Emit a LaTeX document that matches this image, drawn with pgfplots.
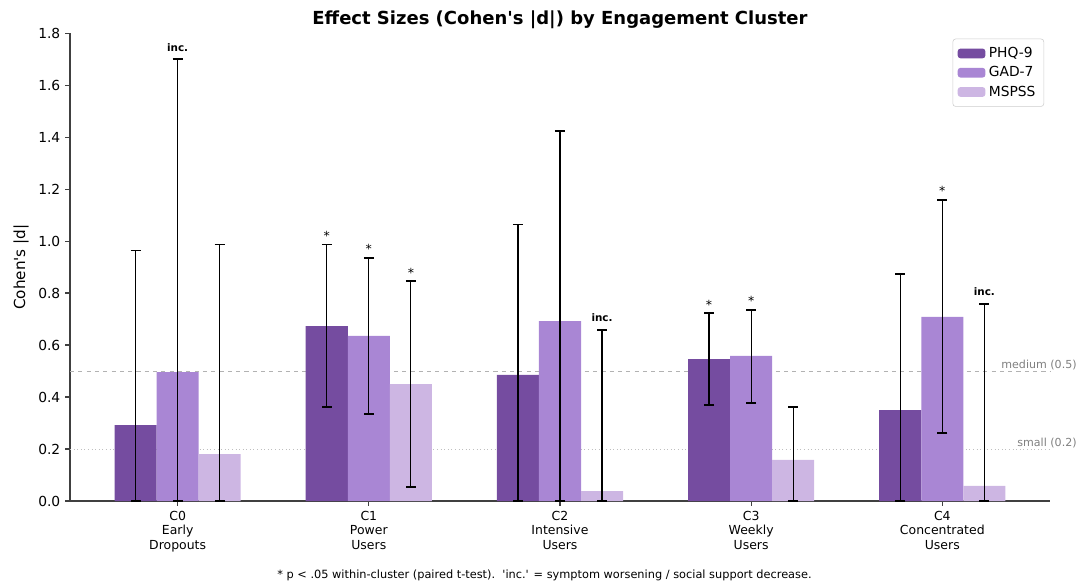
\documentclass[border=0pt]{standalone}
\usepackage{pgfplots}
\pgfplotsset{compat=1.18}
\usepackage{pgfplotstable}
\usepackage{fontspec}
\setmainfont{DejaVu Sans}

\definecolor{phq}{HTML}{754CA0}
\definecolor{gad}{HTML}{A986D4}
\definecolor{msp}{HTML}{CDB6E3}

% g = cluster, y = |d|, lo/hi = CI bounds
\pgfplotstableread{
g y lo hi
0 0.292 0.000 0.965
1 0.673 0.362 0.988
2 0.485 0.000 1.065
3 0.546 0.369 0.723
4 0.350 0.000 0.873
}\tabphq
\pgfplotstableread{
g y lo hi
0 0.496 0.000 1.700
1 0.635 0.335 0.935
2 0.692 0.000 1.423
3 0.558 0.377 0.735
4 0.708 0.262 1.158
}\tabgad
\pgfplotstableread{
g y lo hi
0 0.180 0.000 0.988
1 0.450 0.054 0.846
2 0.038 0.000 0.658
3 0.158 0.000 0.362
4 0.058 0.000 0.758
}\tabmsp
% annotation positions (top of CI)
\pgfplotstableread{
x y
0.78 0.988
1.00 0.935
1.22 0.846
2.78 0.723
3.00 0.735
4.00 1.158
}\tabstar
\pgfplotstableread{
x y
0.00 1.700
2.22 0.658
4.22 0.758
}\tabinc

\pgfplotsset{
  cibar/.style={ybar, bar width=0.22, bar shift=0, draw=none,
    error bars/y dir=both, error bars/y explicit,
    error bars/error bar style={draw=black, line width=0.9pt},
    error bars/error mark options={draw=black, rotate=90, mark size=3.6pt, line width=0.9pt}},
}
\newcommand{\q}{\textquotesingle}

\begin{document}
\begin{tikzpicture}
\begin{axis}[
    scale only axis,
    width=708.2pt, height=338.2pt,
    xmin=-0.563, xmax=4.563,
    ymin=0, ymax=1.8,
    clip=false,
    axis x line*=bottom,
    axis y line*=left,
    axis line style={black!75, line width=0.8pt},
    tick align=outside,
    major tick length=3.5pt,
    tick style={black!75, line width=0.8pt},
    xtick={0,1,2,3,4},
    xticklabels={C0\\Early\\Dropouts, C1\\Power\\Users, C2\\Intensive\\Users, C3\\Weekly\\Users, C4\\Concentrated\\Users},
    xticklabel style={align=center, font=\fontsize{9}{10.8}\selectfont},
    ytick={0,0.2,...,1.8},
    yticklabel style={font=\fontsize{10}{12}\selectfont},
    /pgf/number format/assume math mode=true,
    yticklabel={\pgfmathprintnumber[fixed,fixed zerofill,precision=1]{\tick}},
    ylabel={Cohen\q s |d|},
    ylabel style={font=\fontsize{11}{13}\selectfont},
    title={Effect Sizes (Cohen\q s |d|) by Engagement Cluster},
    title style={font=\bfseries\fontsize{13}{15}\selectfont, yshift=-6.5pt},
    legend style={at={(0.994,0.988)}, anchor=north east, draw=black!20, rounded corners=2pt,
        font=\fontsize{10}{12}\selectfont, inner sep=3.5pt,
        nodes={inner sep=2.5pt}},
    legend cell align=left,
    legend image code/.code={\fill[#1] (0pt,-3.5pt) rectangle (20pt,3.5pt);},
]
\addplot[forget plot, black!30, dashed, line width=0.6pt] coordinates {(-0.563,0.5) (4.563,0.5)};
\addplot[forget plot, black!25, dotted, line width=0.6pt] coordinates {(-0.563,0.2) (4.563,0.2)};

\addplot[cibar, fill=phq]
  table[x expr=\thisrow{g}-0.22, y=y,
        y error plus expr=\thisrow{hi}-\thisrow{y},
        y error minus expr=\thisrow{y}-\thisrow{lo}] {\tabphq};
\addplot[cibar, fill=gad]
  table[x expr=\thisrow{g}, y=y,
        y error plus expr=\thisrow{hi}-\thisrow{y},
        y error minus expr=\thisrow{y}-\thisrow{lo}] {\tabgad};
\addplot[cibar, fill=msp]
  table[x expr=\thisrow{g}+0.22, y=y,
        y error plus expr=\thisrow{hi}-\thisrow{y},
        y error minus expr=\thisrow{y}-\thisrow{lo}] {\tabmsp};
\legend{PHQ-9, GAD-7, MSPSS}

\addplot[forget plot, only marks, mark=none, nodes near coords={*},
  nodes near coords style={anchor=base, inner sep=0pt, yshift=2.9pt, font=\fontsize{9}{10}\selectfont}]
  table[x=x, y=y] {\tabstar};
\addplot[forget plot, only marks, mark=none, nodes near coords={inc.},
  nodes near coords style={anchor=base, inner sep=0pt, yshift=5.8pt, font=\bfseries\fontsize{7.5}{9}\selectfont}]
  table[x=x, y=y] {\tabinc};

\node[anchor=base east, inner sep=0pt, xshift=19.5pt, yshift=2pt, text=black!50, font=\fontsize{8}{9}\selectfont]
  at (axis cs:4.563,0.5) {medium (0.5)};
\node[anchor=base east, inner sep=0pt, xshift=19.5pt, yshift=2pt, text=black!50, font=\fontsize{8}{9}\selectfont]
  at (axis cs:4.563,0.2) {small (0.2)};
\end{axis}
\node[font=\fontsize{8.2}{9.5}\selectfont] at (342.9pt,-53.5pt)
  {* p < .05 within-cluster (paired t-test).\ \ \q inc.\q{} = symptom worsening / social support decrease.};
\pgfresetboundingbox
\path[use as bounding box] (-50.6pt,-59.3pt) rectangle (729.2pt,362.1pt);
\end{tikzpicture}
\end{document}
